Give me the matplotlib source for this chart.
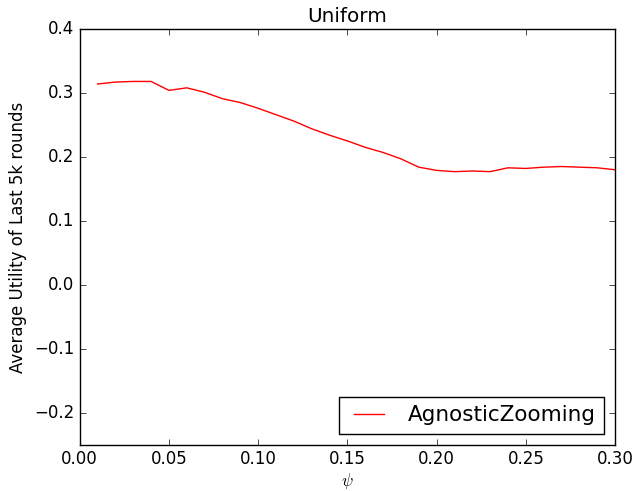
import matplotlib
matplotlib.use("Agg")
import matplotlib.pyplot as plt

psi = [0.01, 0.02, 0.03, 0.04, 0.05, 0.06, 0.07, 0.08, 0.09, 0.10,
       0.11, 0.12, 0.13, 0.14, 0.15, 0.16, 0.17, 0.18, 0.19, 0.20,
       0.21, 0.22, 0.23, 0.24, 0.25, 0.26, 0.27, 0.28, 0.29, 0.30]
utility = [0.314, 0.317, 0.318, 0.318, 0.304, 0.308, 0.301, 0.291, 0.285, 0.276,
           0.266, 0.256, 0.244, 0.234, 0.225, 0.215, 0.207, 0.197, 0.184, 0.179,
           0.177, 0.178, 0.177, 0.183, 0.182, 0.184, 0.185, 0.184, 0.183, 0.180]

plt.style.use("classic")
fig = plt.figure(figsize=(6.38, 4.91), dpi=100)
ax = fig.add_axes([0.125, 0.094, 0.839, 0.847])
ax.plot(psi, utility, color="red", label="AgnosticZooming")
ax.set_xlim(0.0, 0.3)
ax.set_ylim(-0.25, 0.4)
ax.set_title("Uniform")
ax.set_xlabel(r"$\psi$", labelpad=2)
ax.set_ylabel("Average Utility of Last 5k rounds")
ax.legend(loc="lower right", fontsize=15.5)
fig.savefig("out.png", dpi=100)
